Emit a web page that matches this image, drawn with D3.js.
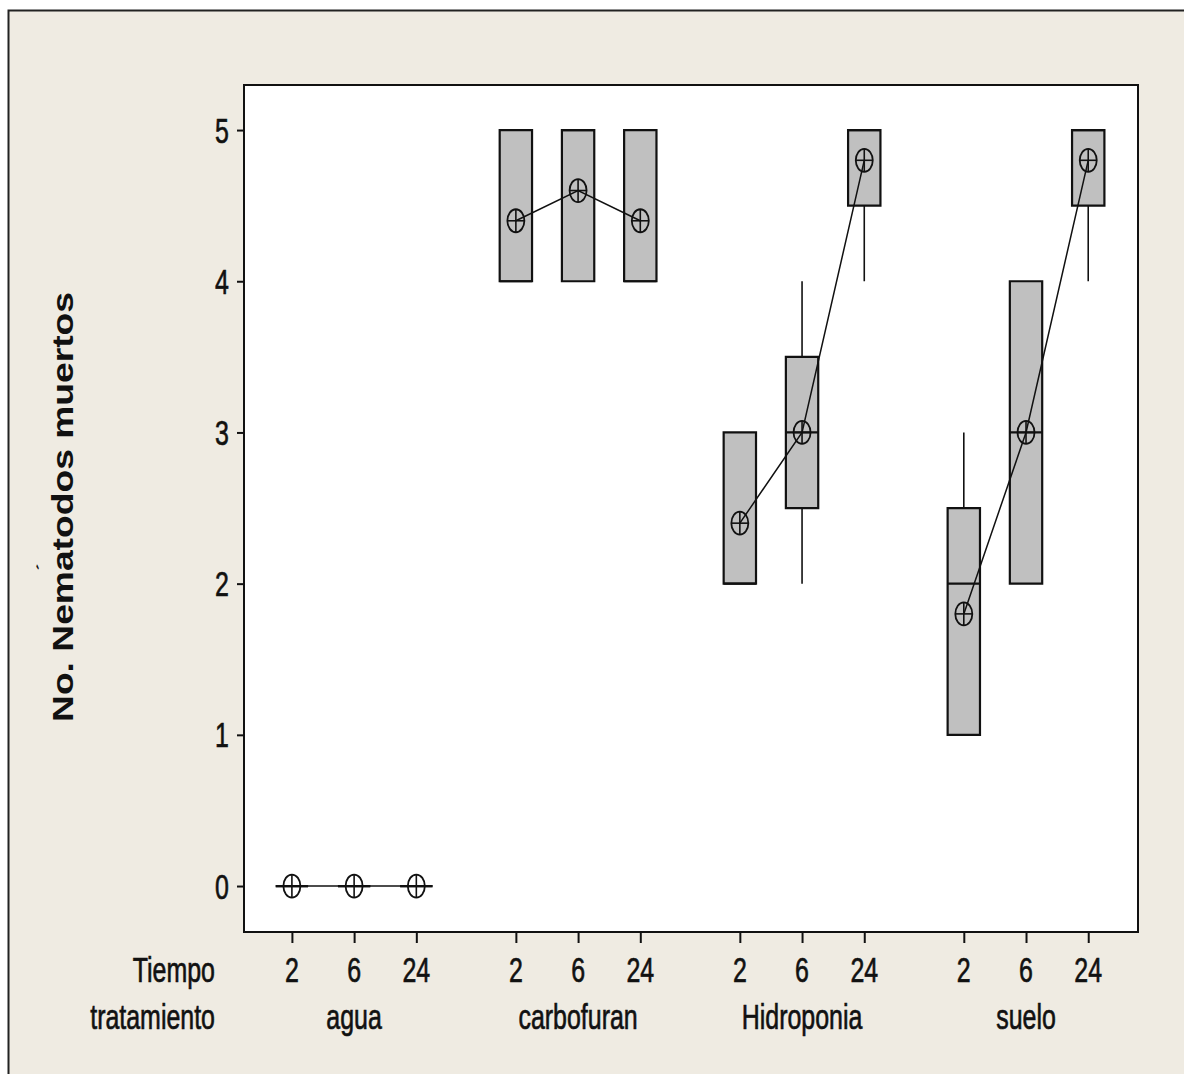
<!DOCTYPE html>
<html>
<head>
<meta charset="utf-8">
<script src="https://cdn.jsdelivr.net/npm/d3@7"></script>
<style>
  html, body { margin: 0; padding: 0; background: #ffffff; }
  svg { display: block; }
  text { font-family: "Liberation Sans", Arial, sans-serif; fill: #111; }
</style>
</head>
<body>
<svg id="chart" width="1184" height="1074"></svg>
<script>
// Treatments and exposure times (hours)
const groups = ["agua", "carbofuran", "Hidroponia", "suelo"];
const times = ["2", "6", "24"];

// Box statistics per treatment, one entry per time
const q1         = [[0, 0, 0], [4, 4, 4], [2, 2.5, 4.5], [1, 2, 4.5]];
const medians    = [[0, 0, 0], [4, 5, 4], [2, 3, 5],     [2, 3, 5]];
const q3         = [[0, 0, 0], [5, 5, 5], [3, 3.5, 5],   [2.5, 4, 5]];
const whiskerLow = [[0, 0, 0], [4, 4, 4], [2, 2, 4],     [1, 2, 4]];
const whiskerHigh= [[0, 0, 0], [5, 5, 5], [3, 4, 5],     [3, 4, 5]];
const means      = [[0, 0, 0], [4.4, 4.6, 4.4], [2.4, 3.0, 4.8], [1.8, 3.0, 4.8]];

const yTicks = [0, 1, 2, 3, 4, 5];
const yTitle = "No. Nematodos muertos";
const rowLabels = ["Tiempo", "tratamiento"];

const svg = d3.select("#chart");

// Outer panel
svg.append("rect")
  .attr("x", 8.5).attr("y", 10.5)
  .attr("width", 1200).attr("height", 1100)
  .attr("fill", "#efebe2")
  .attr("stroke", "#222").attr("stroke-width", 2);

const plot = { left: 244, top: 85, right: 1138, bottom: 932 };
const groupGap = 3.6;           // slot offset between treatments
const pos = (g, j) => j + groupGap * g;

const x = d3.scaleLinear().domain([-0.77, 13.6]).range([plot.left, plot.right]);
const y = d3.scaleLinear().domain([-0.304, 5.298]).range([plot.bottom, plot.top]);

// Plot area
svg.append("rect")
  .attr("x", plot.left).attr("y", plot.top)
  .attr("width", plot.right - plot.left).attr("height", plot.bottom - plot.top)
  .attr("fill", "#ffffff").attr("stroke", "#111").attr("stroke-width", 2);

// Flattened records
const records = [];
groups.forEach((g, gi) => times.forEach((t, ti) => {
  records.push({
    g: gi, t: ti, time: t, p: pos(gi, ti),
    q1: q1[gi][ti], med: medians[gi][ti], q3: q3[gi][ti],
    lo: whiskerLow[gi][ti], hi: whiskerHigh[gi][ti], mean: means[gi][ti]
  });
}));

const halfW = 0.26;
const marks = svg.append("g");

// Whiskers
records.forEach(d => {
  const cx = x(d.p);
  if (d.hi > d.q3) marks.append("line")
    .attr("x1", cx).attr("x2", cx).attr("y1", y(d.q3)).attr("y2", y(d.hi))
    .attr("stroke", "#111").attr("stroke-width", 1.6);
  if (d.lo < d.q1) marks.append("line")
    .attr("x1", cx).attr("x2", cx).attr("y1", y(d.q1)).attr("y2", y(d.lo))
    .attr("stroke", "#111").attr("stroke-width", 1.6);
});

// Boxes (paths so that zero-height boxes still show as a line)
records.forEach(d => {
  const x0 = x(d.p - halfW), x1 = x(d.p + halfW);
  const yTop = y(d.q3), yBot = y(d.q1);
  marks.append("path")
    .attr("d", `M${x0},${yBot}H${x1}V${yTop}H${x0}Z`)
    .attr("fill", "#c0c0c0").attr("stroke", "#111").attr("stroke-width", 2.2);
  marks.append("line")
    .attr("x1", x0).attr("x2", x1).attr("y1", y(d.med)).attr("y2", y(d.med))
    .attr("stroke", "#111").attr("stroke-width", 2.2);
});

// Mean connect lines within each treatment
const meanLine = d3.line().x(d => x(d.p)).y(d => y(d.mean));
groups.forEach((g, gi) => {
  marks.append("path")
    .datum(records.filter(d => d.g === gi))
    .attr("d", meanLine)
    .attr("fill", "none").attr("stroke", "#111").attr("stroke-width", 1.5);
});

// Mean symbols: circle with cross
const rx = 8.5, ry = 11.5;
records.forEach(d => {
  const cx = x(d.p), cy = y(d.mean);
  const s = marks.append("g");
  s.append("ellipse").attr("cx", cx).attr("cy", cy).attr("rx", rx).attr("ry", ry)
    .attr("fill", "none").attr("stroke", "#111").attr("stroke-width", 1.8);
  s.append("line").attr("x1", cx - rx).attr("x2", cx + rx).attr("y1", cy).attr("y2", cy)
    .attr("stroke", "#111").attr("stroke-width", 1.6);
  s.append("line").attr("x1", cx).attr("x2", cx).attr("y1", cy - ry).attr("y2", cy + ry)
    .attr("stroke", "#111").attr("stroke-width", 1.6);
});

// Tall condensed label helper
function label(px, py, txt, anchor) {
  svg.append("g").attr("transform", `translate(${px},${py})`)
    .append("text")
    .attr("transform", "scale(0.96,1.35)")
    .attr("text-anchor", anchor)
    .attr("font-size", 26)
    .attr("stroke", "#111").attr("stroke-width", 0.5)
    .text(txt);
}

// Y axis
const yAxis = d3.axisLeft(y).tickValues(yTicks).tickSize(7).tickFormat("");
const ya = svg.append("g").attr("transform", `translate(${plot.left},0)`).call(yAxis);
ya.select(".domain").remove();
ya.selectAll("line").attr("stroke", "#111").attr("stroke-width", 2);
yTicks.forEach(v => label(229, y(v) + 12.5, String(v), "end"));

// X axis ticks
const xAxis = d3.axisBottom(x).tickValues(records.map(d => d.p)).tickSize(11).tickFormat("");
const xa = svg.append("g").attr("transform", `translate(0,${plot.bottom})`).call(xAxis);
xa.select(".domain").remove();
xa.selectAll("line").attr("stroke", "#111").attr("stroke-width", 2);

records.forEach(d => label(x(d.p), 982, d.time, "middle"));
groups.forEach((g, gi) => label(x(pos(gi, 1)), 1029, g, "middle"));
label(215, 982, rowLabels[0], "end");
label(215, 1029, rowLabels[1], "end");

// Y title
svg.append("text")
  .attr("transform", "translate(73,507) rotate(-90)")
  .attr("text-anchor", "middle")
  .attr("font-weight", "bold")
  .attr("font-size", 29)
  .attr("textLength", 430)
  .attr("lengthAdjust", "spacingAndGlyphs")
  .text(yTitle);

// Stray accent beside the title
svg.append("text")
  .attr("transform", "translate(49,570) rotate(-75)")
  .attr("text-anchor", "middle")
  .attr("font-size", 18)
  .attr("font-weight", "bold")
  .text("´");
</script>
</body>
</html>
